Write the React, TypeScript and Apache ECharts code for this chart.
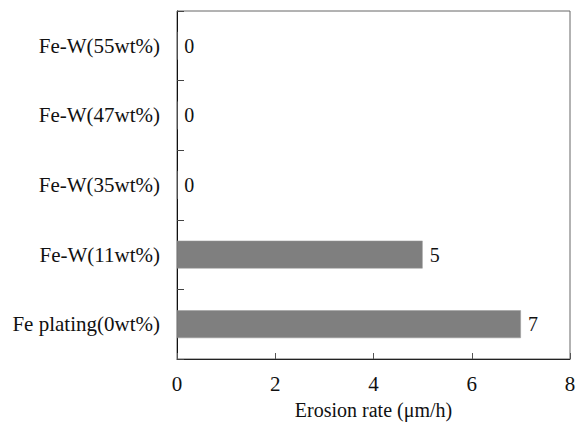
import React, { useEffect, useRef } from "react";
import * as echarts from "echarts";

const categories = [
  "Fe plating(0wt%)",
  "Fe-W(11wt%)",
  "Fe-W(35wt%)",
  "Fe-W(47wt%)",
  "Fe-W(55wt%)",
];
const erosionRates = [7, 5, 0, 0, 0];
const xTicks = { min: 0, max: 8, interval: 2 };
const xName = "Erosion rate (μm/h)";

const FONT = "'Liberation Serif', 'Times New Roman', serif";

export default function App() {
  const ref = useRef<HTMLDivElement>(null);
  useEffect(() => {
    if (!ref.current) return;
    const chart = echarts.init(ref.current, undefined, { renderer: "svg" });
    chart.setOption({
      animation: false,
      backgroundColor: "#ffffff",
      grid: {
        left: 177,
        right: 12,
        top: 11,
        bottom: 63,
        show: true,
        borderColor: "#666",
        borderWidth: 1,
        backgroundColor: "rgba(0,0,0,0)",
      },
      xAxis: {
        type: "value",
        min: xTicks.min,
        max: xTicks.max,
        interval: xTicks.interval,
        name: xName,
        nameLocation: "middle",
        nameGap: 41,
        nameTextStyle: { fontFamily: FONT, fontSize: 20, color: "#111" },
        axisLine: { show: true, lineStyle: { color: "#222", width: 1 } },
        axisTick: { show: true, inside: true, length: 6, lineStyle: { color: "#555" } },
        axisLabel: { fontFamily: FONT, fontSize: 21, color: "#111", margin: 14 },
        splitLine: { show: false },
      },
      yAxis: {
        type: "category",
        data: categories,
        axisLine: { show: true, lineStyle: { color: "#111", width: 1 } },
        axisTick: { show: true, inside: true, length: 7, lineStyle: { color: "#444" } },
        axisLabel: { fontFamily: FONT, fontSize: 21, color: "#111", margin: 17 },
        splitLine: { show: false },
      },
      series: [
        {
          type: "bar",
          data: erosionRates,
          barWidth: "40%",
          itemStyle: { color: "#7f7f7f", borderColor: "#9a9a9a", borderWidth: 0.5 },
          label: {
            show: true,
            position: "right",
            distance: 7,
            fontFamily: FONT,
            fontSize: 20,
            color: "#111",
          },
        },
      ],
    });
    return () => chart.dispose();
  }, []);
  return (
    <div
      ref={ref}
      style={{ position: "fixed", left: 0, top: 0, width: 582, height: 425 }}
    />
  );
}
